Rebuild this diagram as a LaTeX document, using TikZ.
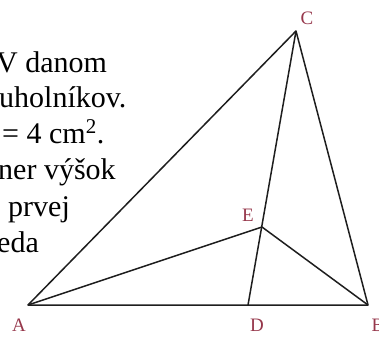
\documentclass[tikz,border=0pt]{standalone}
\usepackage{fontspec}
\setmainfont{Liberation Serif}
\definecolor{lbl}{RGB}{150,55,75}
\definecolor{edge}{RGB}{30,30,30}
\tikzset{
  txt/.style={anchor=base west, inner sep=0pt, font=\fontsize{30}{36}\selectfont},
  vlabel/.style={inner sep=0pt, text=lbl, font=\fontsize{19}{21}\selectfont},
  side/.style={draw=edge, line width=1.5pt, line join=round}
}
\begin{document}
\begin{tikzpicture}[x=1pt,y=-1pt]
\useasboundingbox (0,0) rectangle (379,338);
% text fragments
\node[txt] (t1) at (-4,72) {V danom};
\node[txt] (t2) at (-1,107.5) {uholníkov.};
\node[txt] (t3) at (2,143) {= 4 cm\textsuperscript{2}.};
\node[txt] (t4) at (-2,179) {ner výšok};
\node[txt] (t5) at (8,216) {prvej};
\node[txt] (t6) at (-3,252) {eda};
% vertices
\coordinate (A) at (28,305);
\coordinate (B) at (368,305);
\coordinate (C) at (296,31);
\coordinate (D) at (248,305);
\coordinate (E) at (262,227);
% sides
\draw[side] (A) -- (B) -- (C) -- cycle;
\draw[side] (C) -- (D);
\draw[side] (A) -- (E) -- (B);
% labels
\node[vlabel] (lA) at (19,325) {A};
\node[vlabel] (lB) at (378,325) {B};
\node[vlabel] (lC) at (307,18) {C};
\node[vlabel] (lD) at (257,325) {D};
\node[vlabel] (lE) at (248,215) {E};
\end{tikzpicture}
\end{document}
